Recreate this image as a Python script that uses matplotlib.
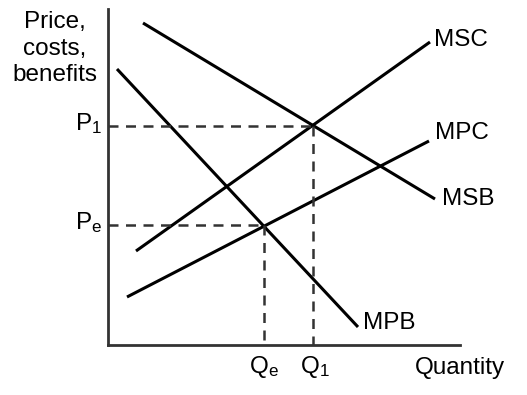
import matplotlib.pyplot as plt

plt.rcParams['font.family'] = ['Liberation Sans', 'DejaVu Sans']
plt.rcParams['mathtext.fontset'] = 'custom'
plt.rcParams['mathtext.rm'] = 'Liberation Sans'

# curve end points (quantity, price) in arbitrary units
msc_x = [28, 322]
msc_y = [94, 303]
mpc_x = [19, 321]
mpc_y = [48, 204]
msb_x = [35, 327]
msb_y = [322, 146]
mpb_x = [9, 250]
mpb_y = [276, 18]

q1, p1 = 205, 219
qe, pe = 156, 120

fig = plt.figure(figsize=(5.27, 3.95), dpi=100)
ax = fig.add_axes([108 / 527, 50 / 395, 352 / 527, 336 / 395])
ax.set_xlim(0, 352)
ax.set_ylim(0, 336)
for s in ['top', 'right']:
    ax.spines[s].set_visible(False)
for s in ['left', 'bottom']:
    ax.spines[s].set_linewidth(2)
    ax.spines[s].set_color('#333333')
ax.set_xticks([])
ax.set_yticks([])

lw = 2.2
for xs, ys in [(msc_x, msc_y), (mpc_x, mpc_y), (msb_x, msb_y), (mpb_x, mpb_y)]:
    ax.plot(xs, ys, color='black', lw=lw, solid_capstyle='butt')

dash = dict(color='#333333', lw=1.8, dashes=(4, 3), clip_on=False)
ax.plot([0, q1], [p1, p1], **dash)
ax.plot([q1, q1], [p1, 0], **dash)
ax.plot([0, qe], [pe, pe], **dash)
ax.plot([qe, qe], [pe, 0], **dash)

fs = 17.5
ax.text(msc_x[1] + 4, msc_y[1] + 2, 'MSC', fontsize=fs, va='center', ha='left')
ax.text(mpc_x[1] + 6, mpc_y[1] + 8, 'MPC', fontsize=fs, va='center', ha='left')
ax.text(msb_x[1] + 7, msb_y[1], 'MSB', fontsize=fs, va='center', ha='left')
ax.text(mpb_x[1] + 5, mpb_y[1] + 4, 'MPB', fontsize=fs, va='center', ha='left')

ax.text(-6, p1 + 2, r'$\mathrm{P_1}$', fontsize=fs, va='center', ha='right')
ax.text(-6, pe + 2, r'$\mathrm{P_e}$', fontsize=fs, va='center', ha='right')
ax.text(qe, -9, r'$\mathrm{Q_e}$', fontsize=fs, va='top', ha='center')
ax.text(q1 + 2, -9, r'$\mathrm{Q_1}$', fontsize=fs, va='top', ha='center')
ax.text(352 + 45, -12, 'Quantity', fontsize=fs, va='top', ha='right')
ax.text(-53, 334, 'Price,\ncosts,\nbenefits', fontsize=fs, va='top', ha='center',
        linespacing=1.27)

fig.savefig('out.png', dpi=100)
